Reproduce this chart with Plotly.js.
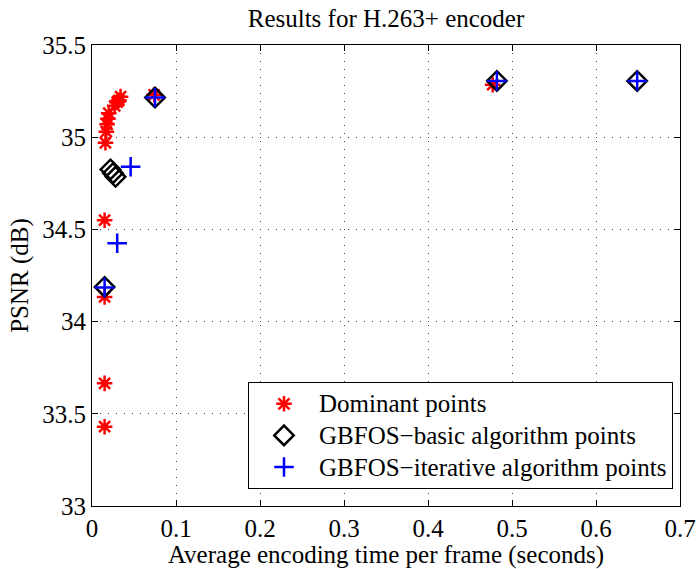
<!DOCTYPE html>
<html>
<head>
<meta charset="utf-8">
<script src="https://cdn.plot.ly/plotly-3.0.1.min.js"></script>
<style>html,body{margin:0;padding:0;background:#fff;}#chart{width:696px;height:569px;}</style>
</head>
<body>
<div id="chart"></div>
<script>
// Dominant points (red asterisks)
const dominantX = [0.015, 0.015, 0.015, 0.015, 0.016, 0.017, 0.018, 0.019, 0.020, 0.027, 0.030, 0.032, 0.034, 0.074, 0.477];
const dominantY = [33.43, 33.665, 34.134, 34.55, 34.97, 35.03, 35.07, 35.10, 35.13, 35.17, 35.19, 35.20, 35.22, 35.23, 35.285];
// GBFOS-basic algorithm points (black diamonds)
const basicX = [0.015, 0.022, 0.025, 0.028, 0.075, 0.482, 0.649];
const basicY = [34.188, 34.825, 34.805, 34.785, 35.215, 35.305, 35.305];
// GBFOS-iterative algorithm points (blue plus)
const iterX = [0.015, 0.030, 0.046, 0.075, 0.482, 0.649];
const iterY = [34.185, 34.425, 34.84, 35.215, 35.305, 35.305];

const seriesNames = ["Dominant points", "GBFOS\u2212basic algorithm points", "GBFOS\u2212iterative algorithm points"];
const xTickVals = [0, 0.1, 0.2, 0.3, 0.4, 0.5, 0.6, 0.7];
const yTickVals = [33, 33.5, 34, 34.5, 35, 35.5];

const FONT = "Liberation Serif, Times New Roman, serif";
const big = s => '<span style="font-size:25px">' + s + '</span>';

const traces = [
  {x: dominantX, y: dominantY, name: big(seriesNames[0]), type: "scatter", mode: "markers", legendgroup: "a",
   marker: {symbol: "asterisk-open", size: 13, color: "red", line: {color: "red", width: 2.5}}},
  {x: basicX, y: basicY, name: big(seriesNames[1]), type: "scatter", mode: "markers", legendgroup: "b",
   marker: {symbol: "diamond-open", size: 15, color: "black", line: {color: "black", width: 2.5}}},
  {x: iterX, y: iterY, name: big(seriesNames[2]), type: "scatter", mode: "markers", legendgroup: "c",
   marker: {symbol: "cross-thin-open", size: 14, color: "blue", line: {color: "blue", width: 2.5}}}
];

const axisCommon = {
  showline: true, linecolor: "black", linewidth: 1, mirror: "ticks",
  ticks: "inside", ticklen: 6, tickcolor: "black", tickwidth: 1,
  showgrid: true, gridcolor: "#444", griddash: "1px,7px", gridwidth: 1,
  zeroline: false, tickfont: {family: FONT, size: 25, color: "black"}
};

const layout = {
  width: 696, height: 569,
  margin: {l: 92, r: 16, t: 45, b: 63},
  paper_bgcolor: "white", plot_bgcolor: "white",
  font: {family: FONT, color: "black"},
  title: {text: "Results for H.263+ encoder", font: {family: FONT, size: 25, color: "black"},
          x: 0.5, xref: "paper", xanchor: "center", y: 1 - 18/569, yref: "container", yanchor: "middle"},
  xaxis: Object.assign({}, axisCommon, {
    range: [0, 0.7], tickvals: xTickVals, ticktext: xTickVals.map(String),
    title: {text: "Average encoding time per frame (seconds)", font: {family: FONT, size: 25, color: "black"}, standoff: 2}
  }),
  yaxis: Object.assign({}, axisCommon, {
    range: [33, 35.5], tickvals: yTickVals, ticktext: yTickVals.map(String),
    title: {text: "PSNR (dB)", font: {family: FONT, size: 25, color: "black"}, standoff: 6}
  }),
  showlegend: true,
  legend: {
    x: 0.2653, y: 0.269, xanchor: "left", yanchor: "top",
    bgcolor: "white", bordercolor: "black", borderwidth: 1,
    font: {family: FONT, size: 22, color: "black"},
    itemwidth: 60, traceorder: "grouped", tracegroupgap: 0
  }
};

Plotly.newPlot("chart", traces, layout, {displayModeBar: false, staticPlot: true});
</script>
</body>
</html>
